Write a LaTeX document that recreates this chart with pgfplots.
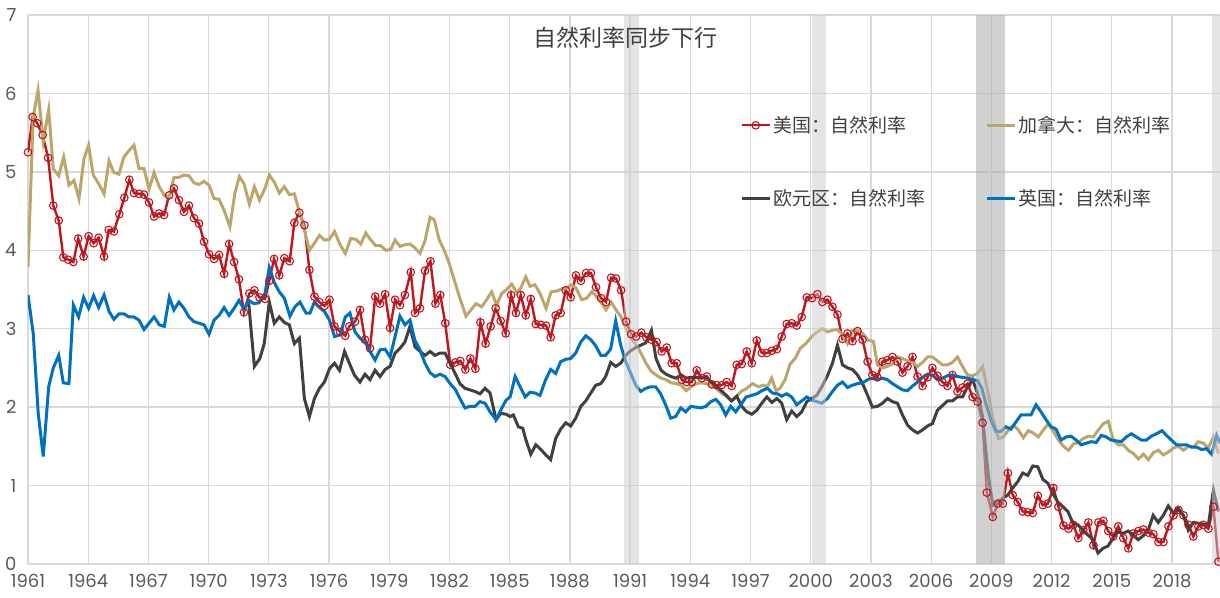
\documentclass[border=0pt]{standalone}
\usepackage{fontspec}
\setmainfont{Poppins}
\newfontfamily\cjk{Noto Sans CJK SC}
\usepackage{pgfplots}
\pgfplotsset{compat=1.18}

\definecolor{usred}{HTML}{C0161E}
\definecolor{catan}{HTML}{BCA66C}
\definecolor{eugray}{HTML}{404040}
\definecolor{ukblue}{HTML}{0070C0}
\definecolor{gridgray}{HTML}{D9D9D9}
\definecolor{txtgray}{HTML}{595959}

\begin{document}
\begin{tikzpicture}
\begin{axis}[
  at={(0,0)}, anchor=south west,
  scale only axis,
  width=1192pt, height=549pt,
  xmin=1961, xmax=2020.39,
  ymin=0, ymax=7,
  xtick={1961,1964,...,2018},
  ytick={0,1,...,7},
  xticklabel={\pgfmathprintnumber[set thousands separator={}]{\tick}},
  /pgf/number format/assume math mode=true,
  tick label style={font=\fontsize{18}{18}\selectfont, text=txtgray},
  yticklabel style={xshift=-8pt},
  xticklabel style={yshift=-7pt},
  major tick length=0pt,
  axis line style={draw=none},
  grid=major,
  major grid style={gridgray, line width=1.3pt},
  legend columns=2,
  legend cell align=left,
  legend style={at={(0.5948,0.823)}, anchor=north west, draw=none, fill=none,
    font=\cjk\fontsize{19}{19}\selectfont, text=eugray,
    row sep=51pt,
    /tikz/every even column/.append style={column sep=58pt}},
  legend image code/.code={\draw[mark repeat=2,mark phase=2,#1] plot coordinates {(0pt,0pt) (14pt,0pt) (28pt,0pt)};},
]

% 美国
\addplot[usred, line width=2.4pt, mark=o, mark size=3.8pt, mark options={line width=1.1pt, fill=white}] coordinates {
(1961.00,5.25) (1961.23,5.70) (1961.46,5.62) (1961.73,5.47) (1962.00,5.18) (1962.26,4.57) (1962.53,4.38) (1962.76,3.91)
(1963.00,3.88) (1963.26,3.85) (1963.50,4.15) (1963.77,3.92) (1964.02,4.18) (1964.27,4.09) (1964.52,4.16) (1964.79,3.92)
(1965.02,4.26) (1965.28,4.24) (1965.55,4.46) (1965.80,4.67) (1966.05,4.90) (1966.28,4.73) (1966.53,4.72) (1966.78,4.71)
(1967.03,4.61) (1967.28,4.43) (1967.53,4.47) (1967.78,4.45) (1968.03,4.70) (1968.27,4.79) (1968.52,4.64) (1968.77,4.49)
(1969.02,4.57) (1969.27,4.41) (1969.52,4.34) (1969.77,4.11) (1970.02,3.95) (1970.27,3.89) (1970.52,3.94) (1970.77,3.70)
(1971.02,4.08) (1971.27,3.85) (1971.51,3.63) (1971.76,3.21) (1972.03,3.45) (1972.28,3.49) (1972.53,3.40) (1972.81,3.38)
(1973.02,3.61) (1973.26,3.89) (1973.52,3.68) (1973.77,3.90) (1974.04,3.86) (1974.27,4.35) (1974.52,4.48) (1974.77,4.32)
(1975.02,3.75) (1975.27,3.41) (1975.52,3.34) (1975.77,3.29) (1976.02,3.37) (1976.27,3.03) (1976.55,2.96) (1976.81,2.91)
(1977.01,3.03) (1977.29,3.09) (1977.54,3.24) (1977.79,2.86) (1978.04,2.75) (1978.30,3.41) (1978.54,3.32) (1978.79,3.44)
(1979.04,3.01) (1979.29,3.37) (1979.53,3.30) (1979.78,3.43) (1980.07,3.72) (1980.28,3.20) (1980.53,3.26) (1980.78,3.74)
(1981.05,3.86) (1981.30,3.32) (1981.54,3.43) (1981.79,3.07) (1982.04,2.54) (1982.29,2.57) (1982.54,2.59) (1982.79,2.48)
(1983.04,2.62) (1983.29,2.49) (1983.54,3.08) (1983.80,2.81) (1984.05,3.03) (1984.30,3.26) (1984.55,3.10) (1984.80,2.94)
(1985.07,3.43) (1985.31,3.20) (1985.55,3.43) (1985.80,3.17) (1986.05,3.38) (1986.30,3.06) (1986.55,3.05) (1986.81,3.04)
(1987.04,2.89) (1987.29,3.17) (1987.54,3.20) (1987.79,3.49) (1988.04,3.40) (1988.30,3.68) (1988.55,3.61) (1988.80,3.71)
(1989.05,3.71) (1989.30,3.53) (1989.55,3.39) (1989.80,3.34) (1990.05,3.65) (1990.30,3.64) (1990.55,3.49) (1990.80,3.09)
(1991.05,2.93) (1991.30,2.90) (1991.56,2.95) (1991.81,2.89) (1992.06,2.86) (1992.32,2.83) (1992.57,2.71) (1992.82,2.76)
(1993.07,2.56) (1993.32,2.56) (1993.57,2.35) (1993.82,2.32) (1994.07,2.32) (1994.32,2.47) (1994.57,2.37) (1994.82,2.39)
(1995.07,2.29) (1995.32,2.28) (1995.56,2.28) (1995.81,2.32) (1996.06,2.27) (1996.31,2.54) (1996.56,2.55) (1996.81,2.71)
(1997.06,2.56) (1997.31,2.85) (1997.56,2.69) (1997.81,2.69) (1998.06,2.72) (1998.31,2.74) (1998.55,2.90) (1998.80,3.06)
(1999.05,3.07) (1999.30,3.04) (1999.55,3.15) (1999.80,3.40) (2000.06,3.39) (2000.33,3.44) (2000.58,3.34) (2000.83,3.37)
(2001.08,3.28) (2001.33,3.18) (2001.58,2.87) (2001.83,2.94) (2002.08,2.84) (2002.33,2.97) (2002.58,2.86) (2002.83,2.58)
(2003.07,2.41) (2003.32,2.38) (2003.57,2.58) (2003.82,2.60) (2004.07,2.64) (2004.32,2.58) (2004.57,2.44) (2004.82,2.52)
(2005.07,2.64) (2005.32,2.39) (2005.57,2.27) (2005.82,2.38) (2006.06,2.50) (2006.31,2.40) (2006.56,2.32) (2006.81,2.27)
(2007.06,2.41) (2007.31,2.20) (2007.56,2.25) (2007.81,2.30) (2008.06,2.13) (2008.31,2.07) (2008.56,1.80) (2008.77,0.91)
(2009.07,0.60) (2009.32,0.77) (2009.57,0.77) (2009.82,1.16) (2010.06,0.88) (2010.31,0.79) (2010.56,0.67) (2010.81,0.66)
(2011.06,0.65) (2011.31,0.87) (2011.56,0.75) (2011.81,0.77) (2012.09,0.97) (2012.34,0.73) (2012.59,0.49) (2012.84,0.45)
(2013.08,0.50) (2013.33,0.33) (2013.58,0.43) (2013.83,0.53) (2014.08,0.24) (2014.33,0.53) (2014.58,0.55) (2014.82,0.42)
(2015.07,0.35) (2015.32,0.48) (2015.57,0.33) (2015.82,0.20) (2016.07,0.39) (2016.32,0.42) (2016.57,0.44) (2016.82,0.40)
(2017.07,0.38) (2017.32,0.28) (2017.57,0.28) (2017.82,0.48) (2018.07,0.62) (2018.32,0.69) (2018.57,0.62) (2018.82,0.50)
(2019.06,0.35) (2019.31,0.48) (2019.56,0.50) (2019.81,0.45) (2020.06,0.73) (2020.31,0.03)
};
\addlegendentry{美国：自然利率}

% 加拿大
\addplot[catan, line width=3pt] coordinates {
(1961.00,3.79) (1961.26,5.70) (1961.50,6.04) (1961.76,5.39) (1962.03,5.79) (1962.26,5.04) (1962.53,4.95) (1962.78,5.19)
(1963.04,4.83) (1963.29,4.89) (1963.54,4.66) (1963.79,5.17) (1964.02,5.34) (1964.25,4.96) (1964.52,4.85) (1964.79,4.72)
(1965.04,5.14) (1965.28,4.99) (1965.53,4.97) (1965.78,5.19) (1966.03,5.27) (1966.28,5.34) (1966.53,5.04) (1966.78,5.04)
(1967.03,4.78) (1967.28,4.99) (1967.54,4.81) (1967.79,4.70) (1968.04,4.68) (1968.27,4.93) (1968.52,4.93) (1968.77,4.96)
(1969.02,4.95) (1969.27,4.86) (1969.52,4.84) (1969.77,4.88) (1970.02,4.83) (1970.27,4.66) (1970.52,4.65) (1970.77,4.51)
(1971.06,4.30) (1971.31,4.73) (1971.53,4.94) (1971.76,4.85) (1972.03,4.59) (1972.28,4.81) (1972.53,4.64) (1972.81,4.79)
(1973.02,4.96) (1973.27,4.87) (1973.52,4.73) (1973.77,4.81) (1974.02,4.71) (1974.27,4.72) (1974.52,4.49) (1974.77,4.26)
(1975.02,4.00) (1975.27,4.09) (1975.52,4.19) (1975.77,4.13) (1976.02,4.14) (1976.27,4.24) (1976.55,4.07) (1976.81,3.96)
(1977.08,4.15) (1977.33,4.14) (1977.58,4.08) (1977.83,4.22) (1978.08,4.13) (1978.32,4.06) (1978.57,4.06) (1978.82,4.00)
(1979.07,4.01) (1979.29,4.13) (1979.53,4.05) (1979.78,4.07) (1980.03,4.08) (1980.28,4.03) (1980.53,3.96) (1980.78,4.12)
(1981.03,4.42) (1981.24,4.39) (1981.49,4.13) (1981.74,4.00) (1981.99,3.83) (1982.24,3.62) (1982.49,3.41) (1982.82,3.16)
(1983.07,3.24) (1983.32,3.32) (1983.60,3.28) (1983.85,3.37) (1984.10,3.47) (1984.35,3.30) (1984.60,3.45) (1984.85,3.50)
(1985.10,3.57) (1985.35,3.46) (1985.55,3.52) (1985.80,3.66) (1986.01,3.54) (1986.26,3.56) (1986.51,3.45) (1986.81,3.26)
(1987.06,3.47) (1987.34,3.48) (1987.62,3.51) (1987.84,3.52) (1988.06,3.56) (1988.30,3.52) (1988.59,3.37) (1988.84,3.39)
(1989.09,3.47) (1989.34,3.41) (1989.59,3.32) (1989.80,3.24) (1990.05,3.34) (1990.30,3.24) (1990.55,3.15) (1990.80,3.00)
(1991.05,2.88) (1991.30,2.79) (1991.54,2.69) (1991.79,2.56) (1992.04,2.46) (1992.29,2.41) (1992.54,2.37) (1992.79,2.35)
(1993.04,2.31) (1993.29,2.30) (1993.54,2.28) (1993.79,2.21) (1994.04,2.26) (1994.29,2.30) (1994.54,2.31) (1994.79,2.30)
(1995.04,2.28) (1995.29,2.24) (1995.54,2.18) (1995.79,2.14) (1996.03,2.08) (1996.28,2.13) (1996.53,2.20) (1996.81,2.24)
(1997.10,2.30) (1997.39,2.26) (1997.64,2.28) (1997.84,2.26) (1998.05,2.37) (1998.27,2.21) (1998.47,2.24) (1998.72,2.35)
(1998.97,2.55) (1999.22,2.62) (1999.47,2.75) (1999.76,2.81) (2000.05,2.90) (2000.33,2.96) (2000.58,3.00) (2000.83,2.96)
(2001.08,2.98) (2001.33,2.99) (2001.58,2.92) (2001.83,2.81) (2002.08,2.98) (2002.33,2.98) (2002.58,2.94) (2002.88,2.85)
(2003.12,2.84) (2003.32,2.54) (2003.57,2.50) (2003.82,2.52) (2004.07,2.55) (2004.32,2.64) (2004.57,2.62) (2004.82,2.59)
(2005.07,2.57) (2005.32,2.52) (2005.57,2.57) (2005.82,2.64) (2006.06,2.64) (2006.31,2.59) (2006.56,2.54) (2006.81,2.54)
(2007.06,2.57) (2007.31,2.64) (2007.56,2.52) (2007.81,2.41) (2008.06,2.40) (2008.31,2.43) (2008.56,2.52) (2008.80,2.22)
(2009.07,1.86) (2009.35,1.60) (2009.60,1.62) (2009.85,1.71) (2010.10,1.77) (2010.34,1.71) (2010.59,1.61) (2010.84,1.70)
(2011.09,1.67) (2011.34,1.62) (2011.59,1.71) (2011.84,1.79) (2012.09,1.69) (2012.34,1.58) (2012.59,1.50) (2012.84,1.45)
(2013.08,1.53) (2013.33,1.55) (2013.58,1.60) (2013.83,1.63) (2014.08,1.62) (2014.33,1.71) (2014.58,1.79) (2014.82,1.82)
(2015.07,1.58) (2015.32,1.52) (2015.57,1.52) (2015.82,1.45) (2016.07,1.41) (2016.32,1.34) (2016.57,1.40) (2016.82,1.33)
(2017.07,1.42) (2017.32,1.45) (2017.57,1.39) (2017.82,1.43) (2018.07,1.48) (2018.32,1.50) (2018.57,1.45) (2018.82,1.50)
(2019.06,1.49) (2019.31,1.56) (2019.56,1.54) (2019.81,1.48) (2020.06,1.62) (2020.31,1.41)
};
\addlegendentry{加拿大：自然利率}

% 欧元区
\addplot[eugray, line width=3pt] coordinates {
(1971.98,3.37) (1972.28,2.52) (1972.55,2.62) (1972.77,2.81) (1973.02,3.34) (1973.27,3.07) (1973.52,3.15) (1973.77,3.08)
(1974.02,3.05) (1974.27,2.81) (1974.52,2.88) (1974.77,2.11) (1975.02,1.88) (1975.27,2.11) (1975.52,2.24) (1975.77,2.32)
(1976.02,2.49) (1976.27,2.56) (1976.52,2.47) (1976.77,2.71) (1977.01,2.56) (1977.26,2.41) (1977.54,2.32) (1977.79,2.42)
(1978.04,2.35) (1978.29,2.47) (1978.54,2.39) (1978.79,2.48) (1979.04,2.52) (1979.29,2.69) (1979.53,2.75) (1979.78,2.83)
(1980.03,3.03) (1980.28,2.77) (1980.53,2.71) (1980.78,2.66) (1981.03,2.71) (1981.28,2.66) (1981.53,2.69) (1981.78,2.69)
(1982.03,2.56) (1982.28,2.43) (1982.52,2.30) (1982.77,2.24) (1983.02,2.22) (1983.27,2.20) (1983.52,2.17) (1983.77,2.24)
(1984.02,2.18) (1984.32,1.84) (1984.55,1.92) (1984.82,1.91) (1985.02,1.88) (1985.18,1.90) (1985.43,1.75) (1985.65,1.73)
(1985.81,1.58) (1986.05,1.40) (1986.30,1.52) (1986.55,1.46) (1986.80,1.39) (1987.04,1.33) (1987.29,1.60) (1987.54,1.72)
(1987.79,1.80) (1988.04,1.76) (1988.29,1.86) (1988.54,2.01) (1988.79,2.08) (1989.04,2.18) (1989.29,2.28) (1989.54,2.30)
(1989.78,2.39) (1990.03,2.57) (1990.28,2.52) (1990.53,2.56) (1990.78,2.66) (1991.03,2.72) (1991.28,2.76) (1991.53,2.79)
(1991.78,2.82) (1992.06,2.98) (1992.29,2.62) (1992.54,2.47) (1992.79,2.42) (1993.04,2.39) (1993.29,2.37) (1993.54,2.41)
(1993.79,2.37) (1994.04,2.38) (1994.29,2.38) (1994.54,2.37) (1994.79,2.39) (1995.04,2.32) (1995.29,2.27) (1995.54,2.21)
(1995.79,2.15) (1996.06,2.08) (1996.31,2.14) (1996.56,2.01) (1996.81,1.94) (1997.06,1.91) (1997.31,1.96) (1997.56,2.05)
(1997.81,2.13) (1998.06,2.06) (1998.31,2.11) (1998.55,2.05) (1998.80,1.84) (1999.05,1.95) (1999.30,1.88) (1999.55,1.94)
(1999.80,2.07) (2000.05,2.11) (2000.30,2.15) (2000.55,2.26) (2000.83,2.40) (2001.08,2.56) (2001.33,2.79) (2001.58,2.54)
(2001.83,2.50) (2002.08,2.48) (2002.33,2.41) (2002.58,2.30) (2002.83,2.15) (2003.07,2.00) (2003.32,2.01) (2003.57,2.05)
(2003.82,2.11) (2004.07,2.07) (2004.32,2.05) (2004.57,1.90) (2004.82,1.77) (2005.07,1.71) (2005.32,1.67) (2005.57,1.71)
(2005.82,1.76) (2006.06,1.79) (2006.31,1.96) (2006.56,2.02) (2006.81,2.08) (2007.06,2.08) (2007.31,2.13) (2007.56,2.13)
(2007.81,2.26) (2008.06,2.35) (2008.31,2.18) (2008.56,1.88) (2008.70,1.50) (2008.86,1.10) (2009.07,0.75) (2009.32,0.79)
(2009.57,0.84) (2009.82,0.88) (2010.06,0.97) (2010.31,1.05) (2010.56,1.16) (2010.81,1.13) (2011.06,1.25) (2011.31,1.24)
(2011.56,1.08) (2011.81,1.03) (2012.06,0.90) (2012.31,0.79) (2012.56,0.73) (2012.81,0.67) (2013.06,0.52) (2013.31,0.50)
(2013.56,0.43) (2013.81,0.37) (2014.06,0.31) (2014.31,0.14) (2014.56,0.20) (2014.81,0.23) (2015.06,0.33) (2015.31,0.41)
(2015.56,0.39) (2015.81,0.42) (2016.06,0.37) (2016.31,0.31) (2016.56,0.36) (2016.81,0.43) (2017.06,0.62) (2017.31,0.53)
(2017.56,0.62) (2017.81,0.74) (2018.06,0.65) (2018.31,0.71) (2018.56,0.62) (2018.81,0.43) (2019.06,0.53) (2019.31,0.52)
(2019.56,0.51) (2019.81,0.50) (2020.06,0.94) (2020.31,0.67)
};
\addlegendentry{欧元区：自然利率}

% 英国
\addplot[ukblue, line width=3pt] coordinates {
(1961.00,3.43) (1961.26,2.94) (1961.51,1.92) (1961.76,1.37) (1962.03,2.26) (1962.26,2.50) (1962.53,2.66) (1962.76,2.31)
(1963.04,2.30) (1963.26,3.30) (1963.52,3.15) (1963.77,3.40) (1964.02,3.26) (1964.27,3.42) (1964.52,3.27) (1964.79,3.43)
(1965.04,3.22) (1965.28,3.12) (1965.53,3.19) (1965.78,3.19) (1966.03,3.15) (1966.28,3.15) (1966.53,3.11) (1966.78,2.99)
(1967.03,3.07) (1967.28,3.15) (1967.54,3.05) (1967.79,3.03) (1968.04,3.40) (1968.27,3.24) (1968.52,3.34) (1968.77,3.26)
(1969.02,3.15) (1969.27,3.09) (1969.52,3.07) (1969.77,3.05) (1970.02,2.93) (1970.27,3.11) (1970.52,3.17) (1970.77,3.27)
(1971.02,3.17) (1971.27,3.26) (1971.51,3.36) (1971.76,3.25) (1972.01,3.36) (1972.26,3.32) (1972.51,3.33) (1972.81,3.45)
(1973.02,3.78) (1973.27,3.59) (1973.52,3.47) (1973.77,3.39) (1974.05,3.16) (1974.30,3.28) (1974.55,3.34) (1974.85,3.20)
(1975.05,3.20) (1975.27,3.34) (1975.52,3.27) (1975.77,3.22) (1976.02,3.11) (1976.27,2.90) (1976.55,2.92) (1976.81,3.15)
(1977.04,3.20) (1977.29,2.96) (1977.54,2.88) (1977.79,2.83) (1978.04,2.71) (1978.29,2.60) (1978.54,2.73) (1978.79,2.74)
(1979.04,2.64) (1979.29,2.90) (1979.53,3.16) (1979.78,3.05) (1980.03,3.11) (1980.28,2.85) (1980.53,2.73) (1980.78,2.56)
(1981.03,2.44) (1981.28,2.39) (1981.53,2.42) (1981.78,2.39) (1982.03,2.30) (1982.28,2.23) (1982.52,2.11) (1982.77,1.99)
(1983.02,2.01) (1983.27,2.01) (1983.52,2.07) (1983.77,2.05) (1984.02,1.94) (1984.32,1.84) (1984.55,1.96) (1984.82,2.09)
(1985.02,2.13) (1985.27,2.39) (1985.52,2.26) (1985.77,2.13) (1986.01,2.19) (1986.26,2.18) (1986.51,2.15) (1986.79,2.35)
(1987.04,2.48) (1987.29,2.43) (1987.54,2.58) (1987.79,2.61) (1988.04,2.62) (1988.29,2.69) (1988.54,2.83) (1988.79,2.91)
(1989.04,2.86) (1989.29,2.78) (1989.54,2.66) (1989.78,2.66) (1990.03,2.74) (1990.28,3.10) (1990.53,2.79) (1990.78,2.58)
(1991.03,2.43) (1991.28,2.28) (1991.53,2.20) (1991.78,2.24) (1992.02,2.26) (1992.27,2.26) (1992.52,2.17) (1992.77,2.03)
(1993.02,1.86) (1993.27,1.88) (1993.52,1.99) (1993.77,1.94) (1994.02,2.01) (1994.27,2.00) (1994.52,1.99) (1994.77,2.01)
(1995.02,2.07) (1995.27,2.10) (1995.51,2.03) (1995.76,1.90) (1996.01,2.01) (1996.26,1.94) (1996.51,2.03) (1996.78,2.13)
(1997.06,2.15) (1997.31,2.17) (1997.56,2.21) (1997.84,2.24) (1998.09,2.18) (1998.34,2.17) (1998.55,2.14) (1998.80,2.17)
(1999.05,2.13) (1999.30,2.03) (1999.55,2.08) (1999.80,2.13) (2000.05,2.09) (2000.30,2.07) (2000.55,2.05) (2000.83,2.11)
(2001.08,2.20) (2001.33,2.28) (2001.58,2.32) (2001.83,2.25) (2002.08,2.28) (2002.33,2.30) (2002.58,2.31) (2002.83,2.35)
(2003.07,2.37) (2003.32,2.35) (2003.57,2.37) (2003.82,2.35) (2004.07,2.30) (2004.32,2.26) (2004.57,2.22) (2004.82,2.21)
(2005.07,2.27) (2005.32,2.32) (2005.57,2.38) (2005.82,2.42) (2006.06,2.41) (2006.31,2.35) (2006.56,2.37) (2006.81,2.40)
(2007.06,2.41) (2007.31,2.39) (2007.56,2.38) (2007.81,2.37) (2008.06,2.35) (2008.31,2.34) (2008.52,2.24) (2008.72,2.05)
(2008.97,1.84) (2009.22,1.69) (2009.47,1.69) (2009.72,1.75) (2009.97,1.72) (2010.22,1.81) (2010.47,1.90) (2010.72,1.90)
(2010.97,1.90) (2011.22,2.03) (2011.47,1.94) (2011.72,1.84) (2011.97,1.75) (2012.22,1.72) (2012.47,1.58) (2012.72,1.62)
(2012.97,1.63) (2013.22,1.58) (2013.47,1.52) (2013.72,1.54) (2013.97,1.56) (2014.22,1.55) (2014.47,1.64) (2014.72,1.62)
(2014.97,1.58) (2015.22,1.57) (2015.47,1.56) (2015.72,1.62) (2015.97,1.66) (2016.22,1.62) (2016.47,1.58) (2016.72,1.58)
(2016.97,1.63) (2017.22,1.66) (2017.50,1.70) (2017.72,1.64) (2017.97,1.58) (2018.22,1.52) (2018.47,1.52) (2018.72,1.52)
(2018.97,1.49) (2019.22,1.49) (2019.47,1.46) (2019.72,1.47) (2019.97,1.40) (2020.22,1.64) (2020.39,1.54)
};
\addlegendentry{英国：自然利率}

% 衰退区间
\fill[gray!40, fill opacity=0.5] (axis cs:1990.70,0) rectangle (axis cs:1991.43,7);
\fill[gray!40, fill opacity=0.5] (axis cs:2000.05,0) rectangle (axis cs:2000.75,7);
\fill[gray!60, fill opacity=0.6] (axis cs:2008.24,0) rectangle (axis cs:2009.66,7);
\fill[gray!40, fill opacity=0.5] (axis cs:2020.00,0) rectangle (axis cs:2020.39,7);

\node[font=\cjk\fontsize{23}{23}\selectfont, text=eugray] at (axis cs:1990.75,6.71) {自然利率同步下行};
\end{axis}
\pgfresetboundingbox
\useasboundingbox (-28pt,-33pt) rectangle (1192pt,564pt);
\end{tikzpicture}
\end{document}
